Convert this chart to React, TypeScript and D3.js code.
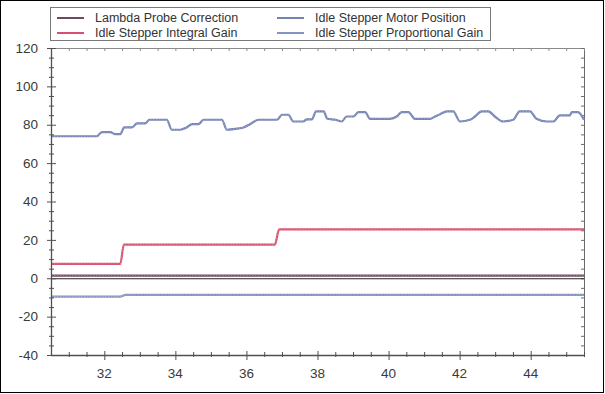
import React from "react";
import * as d3 from "d3";

const W = 605;
const H = 394;

const xDomain = [30.5, 45.5];
const yDomain = [-40, 120];
const xTickValues = [32, 34, 36, 38, 40, 42, 44];
const yTickValues = [-40, -20, 0, 20, 40, 60, 80, 100, 120];

const seriesNames = [
  "Lambda Probe Correction",
  "Idle Stepper Integral Gain",
  "Idle Stepper Motor Position",
  "Idle Stepper Proportional Gain",
];
const seriesColors = ["#6e4a62", "#d9506e", "#7483b4", "#8494c4"];

const lambdaX = [30.5, 45.5];
const lambdaY = [1.4, 1.4];

const integralX = [30.5, 32.45, 32.55, 36.8, 36.92, 45.5];
const integralY = [7.5, 7.5, 17.5, 17.5, 25.5, 25.5];

const propX = [30.5, 32.45, 32.6, 45.5];
const propY = [-9.6, -9.6, -8.7, -8.7];

const motorX = [
  30.5, 31.79, 31.93, 32.17, 32.31, 32.45, 32.56, 32.78, 32.92, 33.15, 33.27, 33.76,
  33.9, 34.14, 34.32, 34.47, 34.65, 34.79, 35.31, 35.45, 35.73, 35.92, 36.1, 36.34,
  36.86, 37.0, 37.18, 37.32, 37.6, 37.7, 37.84, 37.96, 38.17, 38.28, 38.5, 38.68,
  38.82, 39.01, 39.15, 39.34, 39.48, 40.04, 40.23, 40.37, 40.56, 40.74, 41.17, 41.31,
  41.45, 41.64, 41.82, 42.01, 42.29, 42.43, 42.62, 42.81, 42.99, 43.23, 43.51, 43.69,
  43.98, 44.16, 44.45, 44.64, 44.82, 45.1, 45.16, 45.33, 45.5,
];
const motorY = [
  74, 74, 76.2, 76.2, 75.1, 75.1, 78.6, 78.6, 80.7, 80.7, 82.6, 82.6,
  77.4, 77.4, 78.6, 80.3, 80.3, 82.6, 82.6, 77.4, 78, 78.6, 80.3, 82.6,
  82.6, 85.2, 85.2, 81.7, 81.7, 82.8, 82.8, 87, 87, 83.1, 82.6, 81.7,
  84.3, 84.3, 86.6, 86.6, 83.1, 83.1, 84.3, 86.6, 86.6, 83.1, 83.1, 84.3,
  85.5, 87, 87, 81.7, 82.6, 84.3, 87, 87, 84.3, 81.7, 82.6, 87,
  87, 83.1, 81.7, 81.7, 84.9, 84.9, 86.6, 86.6, 82.6,
];

const PL = 51;
const PR = 584;
const PT = 48;
const PB = 355;

export default function App() {
  const x = d3.scaleLinear().domain(xDomain).range([PL, PR]);
  const y = d3.scaleLinear().domain(yDomain).range([PB, PT]);

  const line = d3
    .line<[number, number]>()
    .x((d) => x(d[0]))
    .y((d) => y(d[1]))
    .curve(d3.curveMonotoneX);

  const zip = (xs: number[], ys: number[]) => xs.map((v, i) => [v, ys[i]] as [number, number]);

  const series = [
    zip(lambdaX, lambdaY),
    zip(integralX, integralY),
    zip(motorX, motorY),
    zip(propX, propY),
  ];

  const xMinor = d3.range(31, 45.51, 0.5).filter((v) => Math.abs(v % 2) > 1e-6);
  const yMinor = d3.range(-35, 120, 5).filter((v) => v % 20 !== 0);

  const font = "'Liberation Sans', Arial, sans-serif";
  const axisColor = "#505050";

  const legendItems = [
    { i: 0, lx: 57, ty: 18 },
    { i: 1, lx: 57, ty: 33 },
    { i: 2, lx: 277, ty: 18 },
    { i: 3, lx: 277, ty: 33 },
  ];

  return (
    <svg
      width={W}
      height={H}
      style={{ position: "absolute", left: 0, top: 0, display: "block", background: "#fff" }}
    >
      <rect x={0.5} y={0.5} width={W - 2} height={H - 2} fill="#fff" stroke="#000" strokeWidth={1} />

      {/* legend */}
      <rect x={50.5} y={7.5} width={440} height={33} fill="#fff" stroke="#7a7a7a" strokeWidth={1} />
      {legendItems.map(({ i, lx, ty }) => (
        <g key={i}>
          <line x1={lx} x2={lx + 27} y1={ty} y2={ty} stroke={seriesColors[i]} strokeWidth={2} />
          <text
            x={lx + 38}
            y={ty}
            dy="0.35em"
            fontFamily={font}
            fontSize={12.5}
            fill="#333"
          >
            {seriesNames[i]}
          </text>
        </g>
      ))}

      {/* frame top & right */}
      <line x1={PL} x2={PR} y1={PT + 0.5} y2={PT + 0.5} stroke="#8a8a8a" />
      <line x1={PR + 0.5} x2={PR + 0.5} y1={PT} y2={PB} stroke="#6a6a6a" />
      {xMinor.concat(xTickValues).map((v) => (
        <line key={"tt" + v} x1={x(v) + 0.5} x2={x(v) + 0.5} y1={PT} y2={PT + 3} stroke="#8a8a8a" />
      ))}
      {yMinor.concat(yTickValues).map((v) => (
        <line key={"rt" + v} x1={PR - 3} x2={PR} y1={y(v) + 0.5} y2={y(v) + 0.5} stroke="#6a6a6a" />
      ))}

      {/* zero line */}
      <line x1={PL} x2={PR} y1={y(0) + 0.5} y2={y(0) + 0.5} stroke="#222" strokeWidth={1} />

      {/* data */}
      {series.map((s, i) => (
        <path key={i} d={line(s) || ""} fill="none" stroke={seriesColors[i]} strokeWidth={2.2} />
      ))}
      {series.map((s, i) => (
        <path
          key={"d" + i}
          d={line(s) || ""}
          fill="none"
          stroke="#ffffff"
          strokeOpacity={0.35}
          strokeWidth={0.8}
          strokeDasharray="1.5 1.5"
        />
      ))}

      {/* left axis */}
      <line x1={PL + 0.5} x2={PL + 0.5} y1={PT} y2={PB} stroke={axisColor} strokeWidth={1.3} />
      {yTickValues.map((v) => (
        <g key={"yt" + v}>
          <line x1={PL - 4} x2={PL + 5} y1={y(v) + 0.5} y2={y(v) + 0.5} stroke={axisColor} />
          <text
            x={38}
            y={y(v)}
            dy="0.35em"
            textAnchor="end"
            fontFamily={font}
            fontSize={13.5}
            fill="#3a3a3a"
          >
            {v}
          </text>
        </g>
      ))}
      {yMinor.map((v) => (
        <line key={"ym" + v} x1={PL - 2} x2={PL + 3} y1={y(v) + 0.5} y2={y(v) + 0.5} stroke={axisColor} />
      ))}

      {/* bottom axis */}
      <line x1={PL} x2={PR + 1} y1={PB + 0.5} y2={PB + 0.5} stroke={axisColor} strokeWidth={1.3} />
      {xTickValues.map((v) => (
        <g key={"xt" + v}>
          <line x1={x(v) + 0.5} x2={x(v) + 0.5} y1={PB - 4} y2={PB + 5} stroke={axisColor} />
          <text
            x={x(v)}
            y={373}
            dy="0.35em"
            textAnchor="middle"
            fontFamily={font}
            fontSize={13.5}
            fill="#3a3a3a"
          >
            {v}
          </text>
        </g>
      ))}
      {xMinor.map((v) => (
        <line key={"xm" + v} x1={x(v) + 0.5} x2={x(v) + 0.5} y1={PB - 3} y2={PB + 2} stroke={axisColor} />
      ))}
    </svg>
  );
}
